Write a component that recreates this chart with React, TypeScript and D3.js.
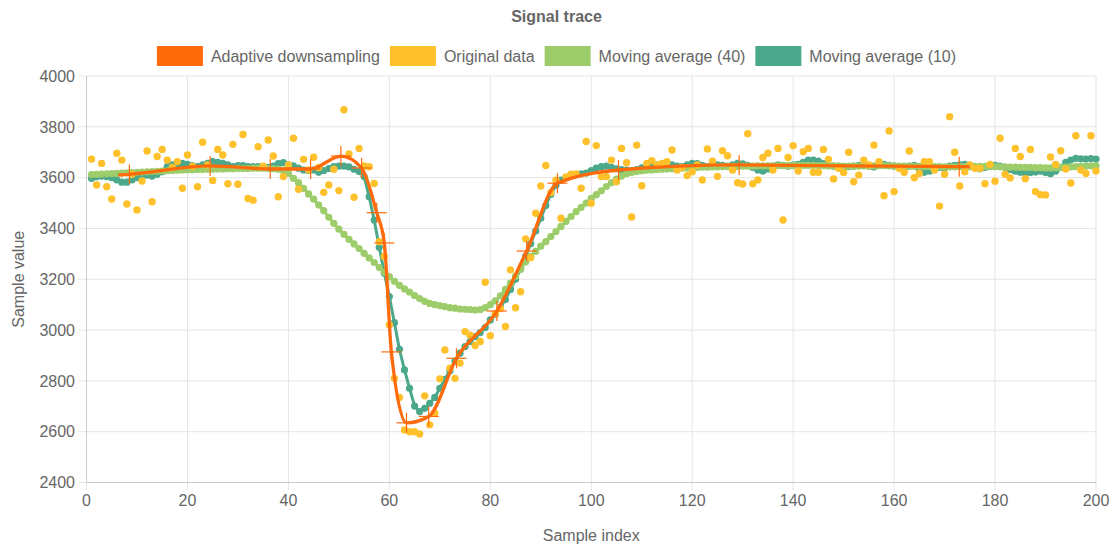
import React, { useMemo } from "react";
import * as d3 from "d3";

const TITLE = "Signal trace";
const X_TITLE = "Sample index";
const Y_TITLE = "Sample value";
const SERIES_NAMES = ["Adaptive downsampling", "Original data", "Moving average (40)", "Moving average (10)"];
const SERIES_COLORS = ["#FF6A0B", "#FFC12B", "#9CCD6A", "#4CA88B"];
const X_TICKS = [0, 20, 40, 60, 80, 100, 120, 140, 160, 180, 200];
const Y_TICKS = [2400, 2600, 2800, 3000, 3200, 3400, 3600, 3800, 4000];

// Original data, sample index 1..200
const ORIGINAL = [
  3673, 3571, 3656, 3564, 3516, 3696, 3669, 3496, 3613, 3473,
  3587, 3705, 3505, 3683, 3711, 3669, 3640, 3663, 3558, 3689,
  3645, 3564, 3739, 3650, 3589, 3711, 3689, 3576, 3731, 3574,
  3770, 3518, 3511, 3722, 3645, 3748, 3685, 3525, 3604, 3650,
  3755, 3554, 3672, 3630, 3680, 3640, 3542, 3571, 3633, 3549,
  3867, 3693, 3523, 3715, 3646, 3643, 3577, 3348, 3290, 3020,
  2810, 2735, 2607, 2600, 2600, 2591, 2741, 2627, 2673, 2808,
  2922, 2850, 2810, 2870, 2994, 2980, 2939, 2955, 3188, 2978,
  3065, 3085, 3014, 3237, 3088, 3151, 3359, 3285, 3460, 3567,
  3648, 3541, 3590, 3440, 3603, 3613, 3614, 3558, 3742, 3499,
  3726, 3604, 3604, 3669, 3584, 3715, 3659, 3445, 3728, 3568,
  3656, 3667, 3650, 3656, 3663, 3709, 3630, 3640, 3608, 3623,
  3650, 3591, 3713, 3665, 3605, 3706, 3686, 3630, 3580, 3575,
  3773, 3576, 3591, 3679, 3696, 3630, 3715, 3433, 3679, 3726,
  3626, 3702, 3715, 3621, 3621, 3711, 3672, 3595, 3637, 3620,
  3700, 3584, 3610, 3669, 3650, 3728, 3663, 3529, 3784, 3545,
  3637, 3621, 3705, 3600, 3616, 3663, 3663, 3630, 3488, 3613,
  3840, 3700, 3567, 3623, 3650, 3637, 3637, 3576, 3652, 3586,
  3755, 3613, 3599, 3715, 3683, 3596, 3711, 3545, 3533, 3532,
  3681, 3652, 3706, 3634, 3579, 3765, 3630, 3616, 3765, 3626,
];

// Moving average (10), sample index 1..200
const MA10 = [
  3597, 3604, 3606, 3604, 3600, 3591, 3582, 3582, 3591, 3600,
  3606, 3610, 3606, 3613, 3623, 3643, 3650, 3652, 3656, 3652,
  3647, 3643, 3650, 3656, 3663, 3660, 3656, 3650, 3643, 3647,
  3647, 3643, 3643, 3643, 3643, 3640, 3645, 3655, 3659, 3650,
  3646, 3637, 3630, 3628, 3630, 3621, 3628, 3636, 3643, 3645,
  3645, 3642, 3633, 3624, 3604, 3525, 3433, 3326, 3224, 3132,
  3029, 2924, 2843, 2771, 2701, 2679, 2692, 2712, 2735, 2771,
  2806, 2840, 2878, 2909, 2935, 2955, 2974, 2990, 3010, 3040,
  3062, 3090, 3120, 3160, 3200, 3240, 3290, 3340, 3390, 3440,
  3490, 3535, 3570, 3590, 3600, 3610, 3612, 3615, 3618, 3628,
  3637, 3643, 3645, 3640, 3635, 3632, 3630, 3628, 3632, 3638,
  3645, 3648, 3650, 3652, 3656, 3650, 3645, 3643, 3650, 3656,
  3655, 3648, 3643, 3645, 3650, 3648, 3645, 3650, 3656, 3654,
  3648, 3640, 3630, 3626, 3634, 3645, 3650, 3648, 3645, 3650,
  3652, 3660, 3669, 3669, 3665, 3655, 3648, 3645, 3642, 3640,
  3643, 3645, 3648, 3650, 3645, 3642, 3650, 3652, 3648, 3645,
  3642, 3640, 3645, 3648, 3632, 3621, 3625, 3635, 3640, 3638,
  3645, 3648, 3650, 3652, 3648, 3640, 3635, 3640, 3645, 3648,
  3645, 3640, 3632, 3625, 3621, 3618, 3620, 3622, 3625, 3620,
  3615, 3625, 3640, 3660, 3669, 3676, 3674, 3673, 3675, 3673,
];

// Moving average (40), sample index 1..200
const MA40 = [
  3612, 3613, 3614, 3615, 3616, 3617, 3618, 3619, 3620, 3621,
  3622, 3623, 3624, 3625, 3626, 3627, 3628, 3629, 3630, 3631,
  3631, 3632, 3632, 3633, 3633, 3634, 3634, 3635, 3635, 3636,
  3636, 3636, 3637, 3637, 3637, 3636, 3635, 3633, 3628, 3617,
  3597, 3580, 3558, 3536, 3515, 3492, 3470, 3444, 3420, 3397,
  3377, 3357, 3339, 3321, 3302, 3284, 3266, 3246, 3228, 3210,
  3192, 3176, 3162, 3149, 3136, 3124, 3113, 3105, 3100, 3096,
  3092, 3088, 3086, 3083, 3082, 3081, 3079, 3081, 3088, 3100,
  3115, 3135, 3160, 3185, 3212, 3240, 3268, 3290, 3310, 3330,
  3348, 3368, 3388, 3408, 3428, 3447, 3466, 3483, 3500, 3518,
  3533, 3548, 3565, 3580, 3594, 3606, 3615, 3620, 3624, 3627,
  3629, 3630, 3632, 3633, 3634, 3635, 3636, 3637, 3638, 3639,
  3640, 3641, 3641, 3642, 3642, 3643, 3643, 3644, 3644, 3645,
  3645, 3645, 3646, 3646, 3646, 3646, 3647, 3647, 3647, 3647,
  3647, 3648, 3648, 3648, 3647, 3647, 3646, 3646, 3646, 3645,
  3645, 3645, 3645, 3646, 3646, 3646, 3647, 3647, 3646, 3646,
  3645, 3645, 3644, 3644, 3644, 3643, 3643, 3643, 3643, 3642,
  3642, 3642, 3643, 3643, 3643, 3644, 3644, 3644, 3643, 3643,
  3642, 3642, 3641, 3641, 3640, 3640, 3640, 3639, 3639, 3638,
  3638, 3639, 3640, 3641, 3642, 3643, 3644, 3645, 3646, 3647,
];

// Adaptive downsampling points (bucket positions)
const ADAPTIVE_X = [6.3, 8.5, 24.5, 36.4, 44.4, 50.4, 54.5, 57.5, 59.0, 60.4, 63.4, 67.8, 73.3, 81.3, 87.2, 93.3, 105.4, 129.3, 172.9, 175.0];
const ADAPTIVE_Y = [3610, 3613, 3646, 3634, 3634, 3685, 3638, 3462, 3343, 2914, 2635, 2660, 2889, 3075, 3311, 3578, 3630, 3650, 3643, 3643];
// whether the bucket point shows a marker
const ADAPTIVE_MARK = [false, true, true, true, true, true, true, true, true, true, true, true, true, true, true, true, true, true, true, false];

const FONT = "'Liberation Sans', Arial, Helvetica, sans-serif";
const W = 1113;
const H = 548;
const PLOT = { left: 86.5, right: 1096, top: 76, bottom: 482.5 };

function measure(text: string, font: string): number {
  const c = document.createElement("canvas").getContext("2d");
  if (!c) return text.length * 8;
  c.font = font;
  return c.measureText(text).width;
}

export default function App() {
  const x = d3.scaleLinear().domain([0, 200]).range([PLOT.left, PLOT.right]);
  const y = d3.scaleLinear().domain([2400, 4000]).range([PLOT.bottom, PLOT.top]);

  const seq = (arr: number[]) => arr.map((v, i) => [i + 1, v] as [number, number]);
  const orig = seq(ORIGINAL);
  const ma10 = seq(MA10);
  const ma40 = seq(MA40);
  const adaptive = ADAPTIVE_X.map((v, i) => [v, ADAPTIVE_Y[i]] as [number, number]);

  const linear = d3.line<[number, number]>().x((d) => x(d[0])).y((d) => y(d[1]));
  const mono = d3
    .line<[number, number]>()
    .x((d) => x(d[0]))
    .y((d) => y(d[1]))
    .curve(d3.curveMonotoneX);

  const legend = useMemo(() => {
    const font = `16px ${FONT}`;
    const boxW = 46;
    const gap = 8;
    const pad = 10;
    const widths = SERIES_NAMES.map((n) => boxW + gap + measure(n, font));
    const total = d3.sum(widths) + pad * (widths.length - 1);
    let cx = (W - total) / 2;
    return SERIES_NAMES.map((n, i) => {
      const item = { name: n, color: SERIES_COLORS[i], x: cx, boxW, gap };
      cx += widths[i] + pad;
      return item;
    });
  }, []);

  const [cOrange, cYellow, cGreen, cTeal] = SERIES_COLORS;

  return (
    <svg
      width={W}
      height={H}
      style={{ position: "absolute", left: 0, top: 0, background: "#fff" }}
      fontFamily={FONT}
    >
      {/* Title */}
      <text x={W / 2} y={22} textAnchor="middle" fontSize={16} fontWeight="bold" fill="#666">
        {TITLE}
      </text>

      {/* Legend */}
      {legend.map((l) => (
        <g key={l.name}>
          <rect x={l.x} y={46} width={l.boxW} height={20} fill={l.color} />
          <text x={l.x + l.boxW + l.gap} y={62} fontSize={16} fill="#666">
            {l.name}
          </text>
        </g>
      ))}

      {/* Grid */}
      {Y_TICKS.map((t) => (
        <line key={"gy" + t} x1={PLOT.left - 8} x2={PLOT.right} y1={y(t)} y2={y(t)} stroke="#e5e5e5" strokeWidth={1} />
      ))}
      {X_TICKS.map((t) => (
        <line key={"gx" + t} x1={x(t)} x2={x(t)} y1={PLOT.top} y2={PLOT.bottom + 8} stroke="#e5e5e5" strokeWidth={1} />
      ))}
      {/* Axis borders */}
      <line x1={PLOT.left} x2={PLOT.left} y1={PLOT.top} y2={PLOT.bottom} stroke="#c9c9c9" strokeWidth={1} />
      <line x1={PLOT.left} x2={PLOT.right} y1={PLOT.bottom} y2={PLOT.bottom} stroke="#c9c9c9" strokeWidth={1} />

      {/* Tick labels */}
      {Y_TICKS.map((t) => (
        <text key={"ly" + t} x={75} y={y(t)} dy="0.36em" textAnchor="end" fontSize={16} fill="#666">
          {t}
        </text>
      ))}
      {X_TICKS.map((t) => (
        <text key={"lx" + t} x={x(t)} y={506} textAnchor="middle" fontSize={16} fill="#666">
          {t}
        </text>
      ))}

      {/* Axis titles */}
      <text x={(PLOT.left + PLOT.right) / 2} y={541} textAnchor="middle" fontSize={16} fill="#666">
        {X_TITLE}
      </text>
      <text transform={`translate(24, ${(PLOT.top + PLOT.bottom) / 2}) rotate(-90)`} textAnchor="middle" fontSize={16} fill="#666">
        {Y_TITLE}
      </text>

      {/* Moving average (10) */}
      <path d={linear(ma10) || ""} fill="none" stroke={cTeal} strokeWidth={3} />
      {ma10.map((d, i) => (
        <circle key={"t" + i} cx={x(d[0])} cy={y(d[1])} r={3.6} fill={cTeal} />
      ))}

      {/* Moving average (40) */}
      <path d={linear(ma40) || ""} fill="none" stroke={cGreen} strokeWidth={3} />
      {ma40.map((d, i) => (
        <circle key={"g" + i} cx={x(d[0])} cy={y(d[1])} r={3.6} fill={cGreen} />
      ))}

      {/* Original data */}
      {orig.map((d, i) => (
        <circle key={"o" + i} cx={x(d[0])} cy={y(d[1])} r={3.7} fill={cYellow} />
      ))}

      {/* Adaptive downsampling */}
      <path d={mono(adaptive) || ""} fill="none" stroke={cOrange} strokeWidth={3.3} strokeLinejoin="round" />
      {adaptive.map((d, i) =>
        ADAPTIVE_MARK[i] ? (
          <g key={"a" + i} stroke={cOrange} strokeWidth={1.2}>
            <line x1={x(d[0]) - 10} x2={x(d[0]) + 10} y1={y(d[1])} y2={y(d[1])} />
            <line x1={x(d[0])} x2={x(d[0])} y1={y(d[1]) - 10} y2={y(d[1]) + 10} />
          </g>
        ) : null
      )}
    </svg>
  );
}
